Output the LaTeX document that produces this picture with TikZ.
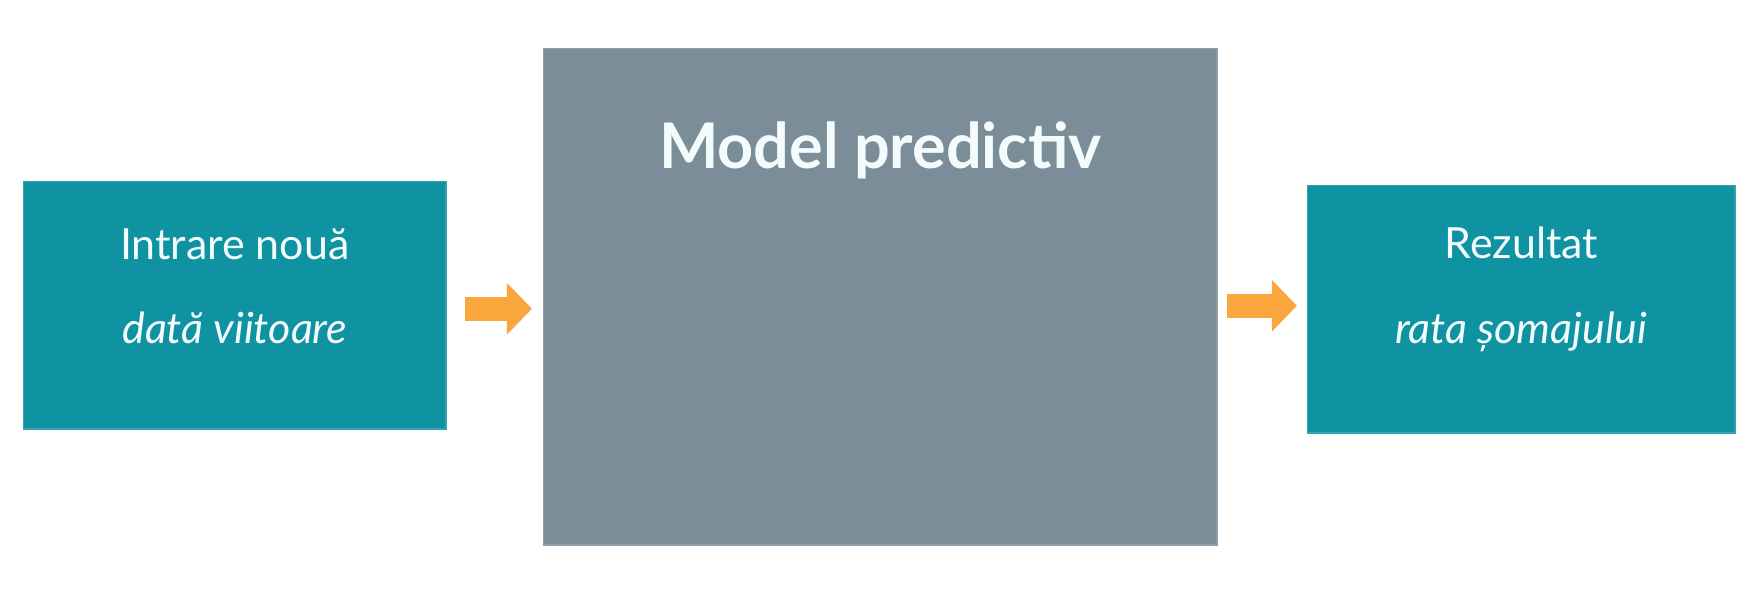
\documentclass[tikz,border=0pt]{standalone}
\usepackage{fontspec}
\setmainfont{Lato}
\usetikzlibrary{positioning,arrows.meta}
\definecolor{tealbox}{HTML}{0F93A2}
\definecolor{slatebox}{HTML}{7A8D99}
\definecolor{arroworange}{HTML}{F9A63C}
\definecolor{paletext}{HTML}{F4FBFC}

\begin{document}
\begin{tikzpicture}[x = 0.01cm, y = -0.01cm,
    box/.style = {draw = #1!85!white, fill = #1, line width = 0.4pt, inner sep = 0pt, anchor = north west},
    boxtext/.style = {text = paletext, align = center, font = \fontsize{12.2}{24}\selectfont},
    flow/.style = {arroworange, line width = 0.24cm, -{Triangle[length = 0.25cm, width = 0.5cm]}}]
    \useasboundingbox (0,0) rectangle (1757,592);
    % the three blocks
    \node (input) [box = tealbox, minimum width = 4.22cm, minimum height = 2.47cm] at (23,181) {};
    \node (model) [box = slatebox, minimum width = 6.73cm, minimum height = 4.96cm] at (543,48) {};
    \node (output) [box = tealbox, minimum width = 4.27cm, minimum height = 2.47cm] at (1307,185) {};
    % texts
    \node (title) [below = 0.73cm of model.north, inner sep = 0pt, text = paletext,
        font = \fontsize{17.9}{22}\selectfont\bfseries] {Model predictiv};
    \node (inputtext) [boxtext] at ([yshift = 0.19cm]input.center) {Intrare nouă\\\textit{dată viitoare}};
    \node (outputtext) [boxtext] at ([yshift = 0.2cm]output.center) {Rezultat\\\textit{rata șomajului}};
    % arrows
    \draw[flow, shorten <= 0.18cm, shorten >= 0.11cm] ([yshift = -0.035cm]input.east) -- ([yshift = -0.035cm]input.east -| model.west);
    \draw[flow, shorten <= 0.09cm, shorten >= 0.10cm] ([yshift = 0.035cm]output.west -| model.east) -- ([yshift = 0.035cm]output.west);
\end{tikzpicture}
\end{document}
